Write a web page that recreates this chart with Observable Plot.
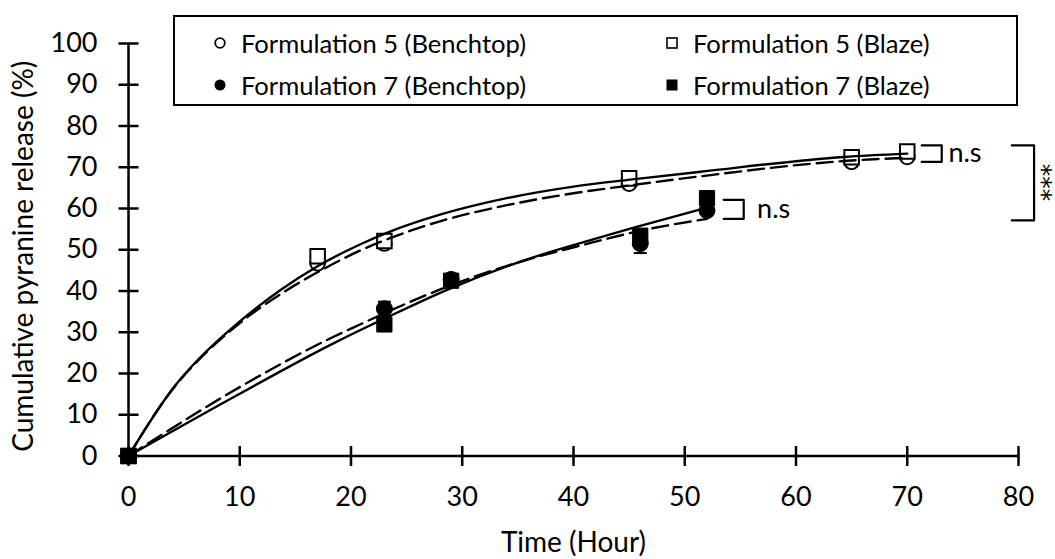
<!DOCTYPE html>
<html>
<head>
<meta charset="utf-8">
<script src="https://cdn.jsdelivr.net/npm/d3@7"></script>
<script src="https://cdn.jsdelivr.net/npm/@observablehq/plot@0.6"></script>
<style>
  body { margin: 0; background: #fff; }
  #chart { position: relative; width: 1055px; height: 559px; font-family: Lato, sans-serif; }
  #legend { position: absolute; left: 173px; top: 15px; width: 841px; height: 87px;
            border: 2px solid #000; background: #fff; }
  #legend .item { position: absolute; display: flex; align-items: center; gap: 14px;
                  font-size: 25.6px; white-space: nowrap; color: #000; transform: translateY(-50%); }
  #legend svg { overflow: visible; }
</style>
</head>
<body>
<div id="chart"><div id="legend"></div></div>
<script>
// Sampling times (hours)
const hours5 = [0, 17, 23, 45, 65, 70];
const hours7 = [0, 23, 29, 46, 52];

// Cumulative pyranine release (%)
const f5Benchtop = [0, 46.7, 51.5, 66.0, 71.3, 72.5];
const f5Blaze    = [0, 48.4, 52.1, 67.3, 72.4, 73.8];
const f7Benchtop = [0, 35.7, 42.8, 51.5, 59.5];
const f7Blaze    = [0, 31.9, 42.5, 53.4, 62.5];
const f7BenchtopSD = [0, 1.7, 0.5, 2.3, 0.8];

// Fitted release curves (solid = Blaze fit, dashed = Benchtop fit)
const fit5BlazeT = [0, 4.2, 6.2, 9.9, 13.7, 17, 20.9, 23.5, 28, 34, 40, 45.1, 51.4, 64.3, 70];
const fit5BlazeV = [0, 17.1, 23.2, 32.4, 40.3, 46.0, 51.4, 54.4, 58.5, 62.5, 65.3, 67.0, 68.9, 72.5, 73.3];
const fit5BenchT = [0, 4.2, 6.2, 9.9, 13.7, 17.3, 20.9, 23.5, 28, 34, 40, 45.1, 51.4, 64.3, 70];
const fit5BenchV = [0, 17.0, 23.0, 32.0, 39.3, 45.0, 49.9, 52.8, 56.9, 60.8, 63.7, 65.6, 67.8, 71.5, 72.3];
const fit7BlazeT = [0, 10, 18.2, 20.9, 23, 28.9, 36.1, 40.6, 45.1, 52];
const fit7BlazeV = [0, 15.1, 27.0, 30.6, 33.3, 40.6, 47.9, 51.6, 55.1, 60.2];
const fit7BenchT = [0, 10, 18.2, 20.9, 23, 28.9, 36.1, 40.6, 46, 52];
const fit7BenchV = [0, 16.7, 28.6, 32.0, 34.6, 41.3, 47.8, 51.0, 54.6, 57.5];

// Axis ticks
const xTicks = [0, 10, 20, 30, 40, 50, 60, 70, 80];
const yTicks = [0, 10, 20, 30, 40, 50, 60, 70, 80, 90, 100];

// Significance annotations (hours, %)
const nsBrackets = [
  {x1: 71.3, x2: 73.1, top: 75.3, bottom: 71.3, tx: 73.7, ty: 73.3, label: "n.s"},
  {x1: 53.5, x2: 55.3, top: 62.1, bottom: 57.5, tx: 56.5, ty: 59.9, label: "n.s"}
];
const sigBracket = {x1: 79.4, x2: 81.4, top: 75.3, bottom: 57.1, tx: 82.1, ty: 66.3, label: "***"};

const legendItems = [
  {label: "Formulation 5 (Benchtop)", shape: "circle", filled: false},
  {label: "Formulation 5 (Blaze)", shape: "square", filled: false},
  {label: "Formulation 7 (Benchtop)", shape: "circle", filled: true},
  {label: "Formulation 7 (Blaze)", shape: "square", filled: true}
];

// Tables for the marks
const f5 = hours5.map((t, i) => ({t, bench: f5Benchtop[i], blaze: f5Blaze[i]}));
const f7 = hours7.map((t, i) => ({t, bench: f7Benchtop[i], blaze: f7Blaze[i], sd: f7BenchtopSD[i]}));
const curve = (T, V) => T.map((t, i) => ({t, v: V[i]}));
const bracketPath = (b) => [
  {t: b.x1, v: b.top}, {t: b.x2, v: b.top}, {t: b.x2, v: b.bottom}, {t: b.x1, v: b.bottom}
];

// Short line symbols used for crossing ticks and error-bar caps
const hLine = {draw(ctx, size) { const r = Math.sqrt(size / Math.PI); ctx.moveTo(-r, 0); ctx.lineTo(r, 0); }};
const vLine = {draw(ctx, size) { const r = Math.sqrt(size / Math.PI); ctx.moveTo(0, -r); ctx.lineTo(0, r); }};

const font = "Lato, sans-serif";
const errs = f7.filter(d => d.sd > 0);

const chart = Plot.plot({
  width: 1055,
  height: 559,
  marginLeft: 128,
  marginRight: 37,
  marginTop: 43,
  marginBottom: 103.5,
  style: {fontFamily: font, color: "#000", background: "#fff", overflow: "visible"},
  x: {domain: [0, 80], axis: null},
  y: {domain: [0, 100], axis: null},
  marks: [
    // axis lines and crossing ticks
    Plot.ruleY([0], {stroke: "#000", strokeWidth: 2.5}),
    Plot.ruleX([0], {stroke: "#000", strokeWidth: 2.5}),
    Plot.dot(xTicks, {x: d => d, y: 0, symbol: vLine, r: 10, stroke: "#000", strokeWidth: 2.5}),
    Plot.dot(yTicks, {x: 0, y: d => d, symbol: hLine, r: 10, stroke: "#000", strokeWidth: 2.5}),
    Plot.axisX(xTicks, {tickSize: 0, tickPadding: 31, fontSize: 27, tickFormat: d => d, label: null}),
    Plot.axisY(yTicks, {tickSize: 0, tickPadding: 31, fontSize: 27, tickFormat: d => d, label: null}),
    Plot.text(["Time (Hour)"], {frameAnchor: "bottom", dy: 87.5, textAnchor: "middle", lineAnchor: "middle",
      fontSize: 28, fill: "#000"}),
    Plot.text(["Cumulative pyranine release (%)"], {frameAnchor: "left", dx: -104.5, dy: 6.5, rotate: -90,
      textAnchor: "middle", lineAnchor: "middle", fontSize: 28, fill: "#000"}),

    // error bars (Formulation 7, Benchtop)
    Plot.ruleX(errs, {x: "t", y1: d => d.bench - d.sd, y2: d => d.bench + d.sd, stroke: "#000", strokeWidth: 2}),
    Plot.dot(errs, {x: "t", y: d => d.bench - d.sd, symbol: hLine, r: 6.5, stroke: "#000", strokeWidth: 2}),
    Plot.dot(errs, {x: "t", y: d => d.bench + d.sd, symbol: hLine, r: 6.5, stroke: "#000", strokeWidth: 2}),

    // data points
    Plot.dot(f5, {x: "t", y: "bench", symbol: "circle", r: 7.3, fill: "#fff", stroke: "#000", strokeWidth: 2}),
    Plot.dot(f7, {x: "t", y: "bench", symbol: "circle", r: 8, fill: "#000", stroke: "#000", strokeWidth: 1}),
    Plot.dot(f5, {x: "t", y: "blaze", symbol: "square", r: 8.2, fill: "#fff", stroke: "#000", strokeWidth: 2}),
    Plot.dot(f7, {x: "t", y: "blaze", symbol: "square", r: 8.6, fill: "#000", stroke: "#000", strokeWidth: 1}),

    // fitted curves
    Plot.line(curve(fit5BlazeT, fit5BlazeV), {x: "t", y: "v", curve: "monotone-x", stroke: "#000", strokeWidth: 2.4}),
    Plot.line(curve(fit5BenchT, fit5BenchV), {x: "t", y: "v", curve: "monotone-x", stroke: "#000", strokeWidth: 2.4, strokeDasharray: "16,7"}),
    Plot.line(curve(fit7BlazeT, fit7BlazeV), {x: "t", y: "v", curve: "monotone-x", stroke: "#000", strokeWidth: 2.4}),
    Plot.line(curve(fit7BenchT, fit7BenchV), {x: "t", y: "v", curve: "monotone-x", stroke: "#000", strokeWidth: 2.4, strokeDasharray: "16,7"}),

    // significance annotations
    ...nsBrackets.map(b => Plot.line(bracketPath(b), {x: "t", y: "v", stroke: "#000", strokeWidth: 2.2})),
    Plot.text(nsBrackets, {x: "tx", y: "ty", text: "label", textAnchor: "start", lineAnchor: "middle", fontSize: 27, fill: "#000"}),
    Plot.line(bracketPath(sigBracket), {x: "t", y: "v", stroke: "#000", strokeWidth: 2.2}),
    Plot.text([sigBracket], {x: "tx", y: "ty", text: "label", rotate: 90, lineAnchor: "middle",
      fontFamily: "DejaVu Sans", fontSize: 25, fill: "#000"})
  ]
});

const host = document.getElementById("chart");
host.insertBefore(chart, host.firstChild);

// Legend box over the top of the plot area
const legend = d3.select("#legend");
const cols = [45, 497];
const rows = [26, 68];
legendItems.forEach((d, i) => {
  const item = legend.append("div").attr("class", "item")
    .style("left", (cols[i % 2] - 7) + "px")
    .style("top", rows[Math.floor(i / 2)] + "px");
  const svg = item.append("svg").attr("width", 14).attr("height", 14).attr("viewBox", "-7 -7 14 14");
  if (d.shape === "circle") {
    svg.append("circle").attr("r", d.filled ? 5.5 : 4.8)
      .attr("fill", d.filled ? "#000" : "#fff").attr("stroke", "#000").attr("stroke-width", d.filled ? 0 : 1.8);
  } else {
    const s = d.filled ? 11 : 10;
    svg.append("rect").attr("x", -s / 2).attr("y", -s / 2).attr("width", s).attr("height", s)
      .attr("fill", d.filled ? "#000" : "#fff").attr("stroke", "#000").attr("stroke-width", d.filled ? 0 : 1.6);
  }
  item.append("span").text(d.label);
});
</script>
</body>
</html>
